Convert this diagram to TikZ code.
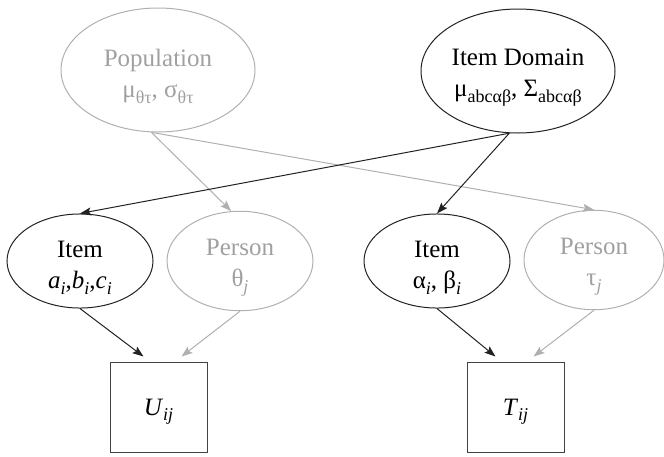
\documentclass[tikz,border=0pt]{standalone}
\usepackage{fontspec}
\setmainfont{Liberation Serif}
\usetikzlibrary{shapes.geometric,arrows.meta,calc}
\definecolor{lg}{HTML}{A0A0A0}
\definecolor{lgline}{HTML}{B0B0B0}
\definecolor{dk}{HTML}{222222}
\newcommand\sbs[1]{\raisebox{-0.22em}{\fontsize{18}{18}\selectfont #1}}
\newcommand\topstrut{\rule{0pt}{30pt}}
\begin{document}
\begin{tikzpicture}[x=1pt,y=-1pt,
 lbl/.style={font=\fontsize{25}{31}\selectfont, align=center},
 bigell/.style={ellipse, minimum width=194pt, minimum height=124pt, inner sep=0pt, lbl},
 smell/.style={ellipse, minimum width=146pt, minimum height=94pt, inner sep=0pt, lbl},
 dkobj/.style={draw=dk, text=black, line width=1pt},
 ltobj/.style={draw=lgline, text=lg, line width=1pt},
 obsbox/.style={rectangle, draw=dk!85, line width=1pt, minimum width=97pt, minimum height=90pt, inner sep=0pt, lbl, text=black},
 dkarr/.style={draw=dk, line width=1pt, -{Stealth[length=11pt,width=8pt,inset=2pt]}},
 ltarr/.style={draw=lgline, line width=1pt, -{Stealth[length=11pt,width=8pt,inset=2pt]}}]
\useasboundingbox (0,0) rectangle (664,456);
\node[bigell, ltobj] (pop) at (158,70) {\topstrut Population\\μ\sbs{θτ}, σ\sbs{θτ}};
\node[bigell, dkobj] (dom) at (518,71) {\topstrut Item Domain\\μ\sbs{abcαβ}, Σ\sbs{abcαβ}};
\node[smell, dkobj] (itL) at (80,261) {\topstrut Item\\\textit{a}\sbs{\textit{i}},\textit{b}\sbs{\textit{i}},\textit{c}\sbs{\textit{i}}};
\node[smell, ltobj] (psT) at (240,261) {\topstrut Person\\θ\sbs{\textit{j}}};
\node[smell, dkobj] (itR) at (437,261) {\topstrut Item\\α\sbs{\textit{i}}, β\sbs{\textit{i}}};
\node[smell, ltobj, minimum width=140pt, minimum height=90pt] (psU) at (594,260) {\topstrut Person\\τ\sbs{\textit{j}}};
\node[obsbox] (U) at (158.5,407) {\rule{0pt}{26pt}\textit{U}\sbs{\textit{ij}}};
\node[obsbox] (T) at (515.5,407) {\rule{0pt}{26pt}\textit{T}\sbs{\textit{ij}}};
\coordinate (uL) at ($(U.north)+(-15,-5)$);
\coordinate (uR) at ($(U.north)+(23,-5)$);
\coordinate (tL) at ($(T.north)+(-20,-5)$);
\coordinate (tR) at ($(T.north)+(18,-5)$);
\draw[ltarr] (pop.264) -- (psT.100);
\draw[ltarr] (pop.264) -- (psU.north);
\draw[dkarr] (dom.262) -- (itL.north);
\draw[dkarr] (dom.262) -- (itR.north);
\draw[dkarr] (itL.south) -- (uL);
\draw[ltarr] (psT.south) -- (uR);
\draw[dkarr] (itR.south) -- (tL);
\draw[ltarr] (psU.south) -- (tR);
\end{tikzpicture}
\end{document}
